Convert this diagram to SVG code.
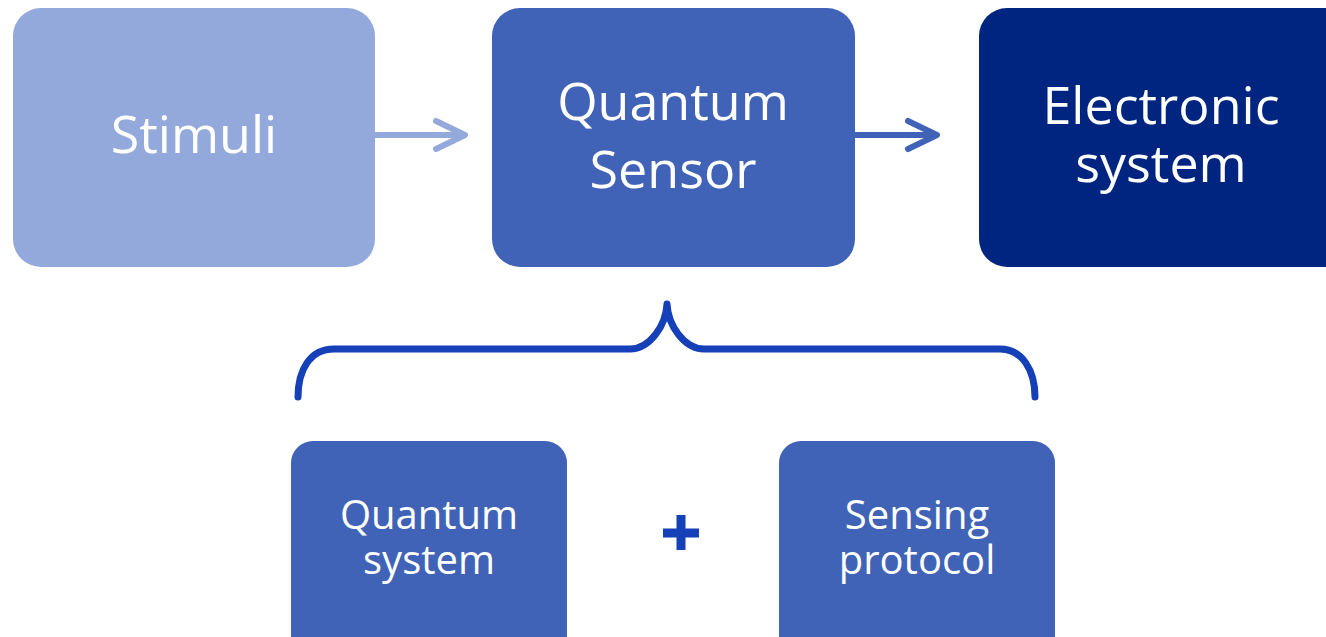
<svg xmlns="http://www.w3.org/2000/svg" width="1326" height="637" viewBox="0 0 1326 637">
  <style>
    .lbl { font-family: "Open Sans", "Noto Sans", sans-serif; fill: #ffffff; text-anchor: middle; }
    .big { font-size: 52px; }
    .small { font-size: 40px; }
    .conn { fill: none; stroke-width: 6; stroke-linecap: round; stroke-linejoin: round; }
  </style>
  <rect width="1326" height="637" fill="#ffffff"/>

  <g id="stimuli">
    <rect x="13" y="8" width="362" height="259" rx="28" fill="#94A9DB"/>
    <text class="lbl big" x="194" y="153">Stimuli</text>
  </g>

  <g id="quantum-sensor">
    <rect x="492" y="8" width="363" height="259" rx="28" fill="#4063B8"/>
    <text class="lbl big" x="673" y="120">Quantum</text>
    <text class="lbl big" x="673" y="188">Sensor</text>
  </g>

  <g id="electronic-system">
    <rect x="979" y="8" width="380" height="259" rx="28" fill="#002580"/>
    <text class="lbl big" x="1161" y="124">Electronic</text>
    <text class="lbl big" x="1161" y="182">system</text>
  </g>

  <g id="quantum-system">
    <rect x="291" y="441" width="276" height="230" rx="22" fill="#4063B8"/>
    <text class="lbl small" x="429" y="529">Quantum</text>
    <text class="lbl small" x="429" y="574">system</text>
  </g>

  <g id="sensing-protocol">
    <rect x="779" y="441" width="276" height="230" rx="22" fill="#4063B8"/>
    <text class="lbl small" x="917" y="529">Sensing</text>
    <text class="lbl small" x="917" y="574">protocol</text>
  </g>

  <g id="plus">
    <path d="M663 533 H699 M681 515 V550" stroke="#1540B8" stroke-width="9" fill="none"/>
  </g>

  <g id="connectors">
    <path class="conn" d="M375 135 H464 M436 121 L465 135 L436 149" stroke="#94A9DB"/>
    <path class="conn" d="M855 135 H936 M908 121 L937 135 L908 149" stroke="#4063B8"/>
    <path d="M298 397 C298 370 310 349 334 349 H630 C650 349 666 325 667 304 C668 325 684 349 704 349 H1000 C1022 349 1035 370 1035 397" fill="none" stroke="#1540B8" stroke-width="7" stroke-linecap="round" stroke-linejoin="round"/>
  </g>
</svg>
